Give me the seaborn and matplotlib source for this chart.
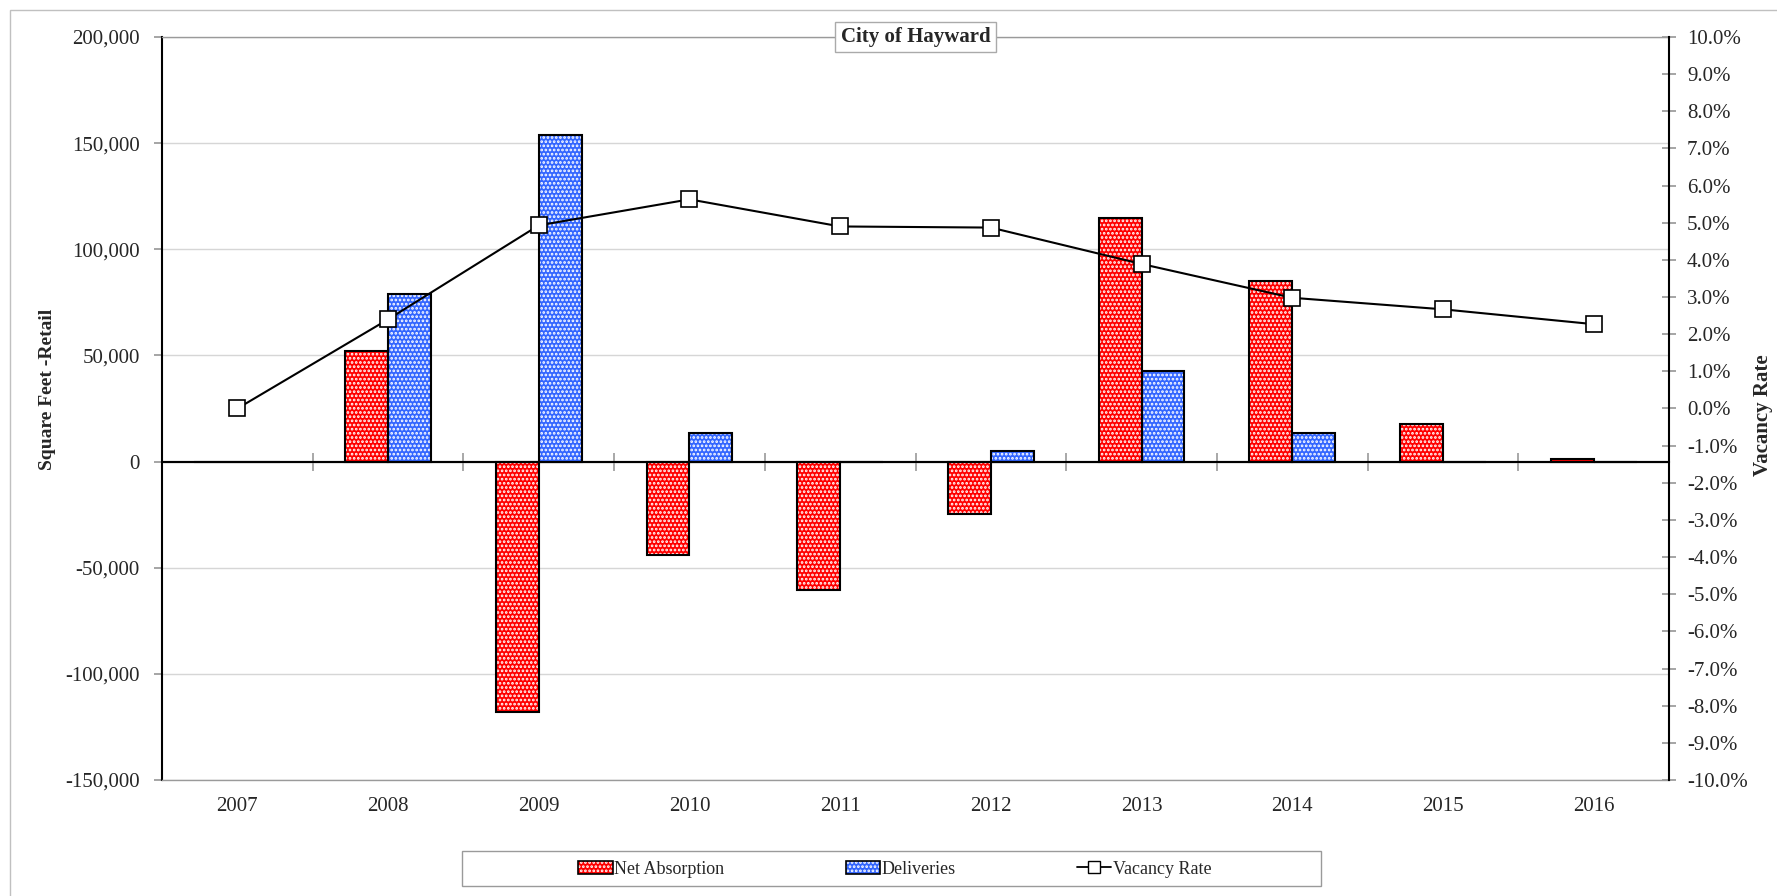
import numpy as np
import pandas as pd
import matplotlib
matplotlib.use('Agg')
import matplotlib.pyplot as plt
import seaborn as sns
from matplotlib.patches import Rectangle, Patch
from matplotlib.lines import Line2D
from matplotlib.ticker import FuncFormatter, MultipleLocator

# values
years = ['2007', '2008', '2009', '2010', '2011', '2012', '2013', '2014', '2015', '2016']
net_absorption = [0, 52000, -118000, -43800, -60400, -24600, 114900, 85000, 17600, 1100]
deliveries = [0, 79000, 154000, 13400, 0, 4800, 42700, 13400, 0, 0]
vacancy_rate = [0.0, 2.40, 4.93, 5.63, 4.90, 4.87, 3.89, 2.98, 2.67, 2.27]  # percent

RED = '#FF0000'
BLUE = '#3366FF'
GRAY = '#9a9a9a'

sns.set_theme(style='white')
plt.rcParams['font.family'] = ['Liberation Serif', 'DejaVu Serif']
plt.rcParams['hatch.linewidth'] = 1.3

df = pd.DataFrame({
    'Year': years * 2,
    'Square Feet': net_absorption + deliveries,
    'Series': ['Net Absorption'] * len(years) + ['Deliveries'] * len(years),
})

fig = plt.figure(figsize=(17.77, 8.96), dpi=100)
ax = fig.add_axes([0.0912, 0.1295, 0.8480, 0.8292])

sns.barplot(data=df, x='Year', y='Square Feet', hue='Series',
            palette=[RED, BLUE], width=0.57, saturation=1,
            errorbar=None, legend=False, ax=ax)

# dotted fill + black outline for each bar
for bar in list(ax.patches):
    bar.set_hatch('....')
    bar.set_edgecolor('white')
    bar.set_linewidth(0)
    ax.add_patch(Rectangle(bar.get_xy(), bar.get_width(), bar.get_height(),
                           fill=False, edgecolor='black', lw=1.5,
                           zorder=bar.get_zorder() + 0.1))

ymin, ymax = -150000, 200000
ax.set_ylim(ymin, ymax)
ax.set_xlim(-0.5, len(years) - 0.5)
ax.yaxis.set_major_locator(MultipleLocator(50000))
ax.yaxis.set_major_formatter(FuncFormatter(lambda v, p: f'{v:,.0f}'))
ax.yaxis.grid(True, color='#d6d6d6', lw=1)
ax.set_axisbelow(True)
ax.axhline(0, color='black', lw=1.5, zorder=3)
ax.set_xlabel('')
ax.set_ylabel('')

for s in ['top', 'bottom']:
    ax.spines[s].set_color(GRAY)
    ax.spines[s].set_linewidth(1)
ax.spines['right'].set_visible(False)
ax.spines['left'].set_color('black')
ax.spines['left'].set_linewidth(1.5)

ax.tick_params(axis='y', left=True, direction='out', length=6, color=GRAY,
               labelsize=15, pad=10)
ax.tick_params(axis='x', bottom=False, length=0, labelsize=15, pad=12)

# category separator ticks on the zero line
zero_frac = (0 - ymin) / (ymax - ymin)
sec = ax.secondary_xaxis(zero_frac)
sec.set_xticks(np.arange(0.5, len(years) - 1, 1.0))
sec.tick_params(axis='x', direction='inout', length=13, color=GRAY,
                width=1.2, labelbottom=False, bottom=True)
sec.spines['bottom'].set_color('black')
sec.spines['bottom'].set_linewidth(1.5)

# vacancy rate line on the right axis
ax2 = ax.twinx()
sns.lineplot(x=np.arange(len(years)), y=vacancy_rate, ax=ax2, color='black',
             lw=1.5, marker='s', markersize=11, markerfacecolor='white',
             markeredgecolor='black', markeredgewidth=1.2, zorder=5)
ax2.set_xlim(-0.5, len(years) - 0.5)
ax2.set_ylim(-10, 10)
ax2.yaxis.set_major_locator(MultipleLocator(1))
ax2.yaxis.set_major_formatter(FuncFormatter(lambda v, p: f'{v:.1f}%'))
ax2.set_ylabel('')
ax2.set_xlabel('')
for s in ['top', 'bottom', 'left']:
    ax2.spines[s].set_visible(False)
ax2.spines['right'].set_color('black')
ax2.spines['right'].set_linewidth(1.5)
ax2.tick_params(axis='y', right=True, direction='inout', length=10,
                color=GRAY, labelsize=15, pad=8)

ax.text(0.5, 1.0, 'City of Hayward', transform=ax.transAxes, ha='center',
        va='center', fontsize=15, fontweight='bold', zorder=10,
        bbox=dict(facecolor='white', edgecolor='#aaaaaa',
                  boxstyle='square,pad=0.25'))

fig.text(0.0265, 0.565, 'Square Feet -Retail', rotation=90, ha='center',
         va='center', fontsize=14, fontweight='bold')
fig.text(0.992, 0.537, 'Vacancy Rate', rotation=90, ha='center',
         va='center', fontsize=15, fontweight='bold')

# legend
handles = [
    (Patch(facecolor=RED, edgecolor='white', hatch='....', lw=0),
     Patch(fill=False, edgecolor='black', lw=1.2)),
    (Patch(facecolor=BLUE, edgecolor='white', hatch='....', lw=0),
     Patch(fill=False, edgecolor='black', lw=1.2)),
    Line2D([], [], color='black', lw=1.3, marker='s', markersize=9,
           markerfacecolor='white', markeredgecolor='black'),
]
fig.legend(handles, ['Net Absorption', 'Deliveries', 'Vacancy Rate'],
           loc='center', bbox_to_anchor=(0.5036, 0.030), ncol=3,
           frameon=False, fontsize=13, handlelength=1.9, handleheight=0.7,
           handletextpad=0.1, columnspacing=6.7)
fig.add_artist(Rectangle((462 / 1777, 1 - 886 / 896), 859 / 1777, 35 / 896,
                         transform=fig.transFigure, fill=False,
                         edgecolor=GRAY, lw=1))
# outer chart frame
fig.add_artist(Rectangle((10 / 1777, -0.05), 1.1, 1 - 10 / 896 + 0.05,
                         transform=fig.transFigure, fill=False,
                         edgecolor='#c0c0c0', lw=1))

fig.savefig('out.png', dpi=100)
